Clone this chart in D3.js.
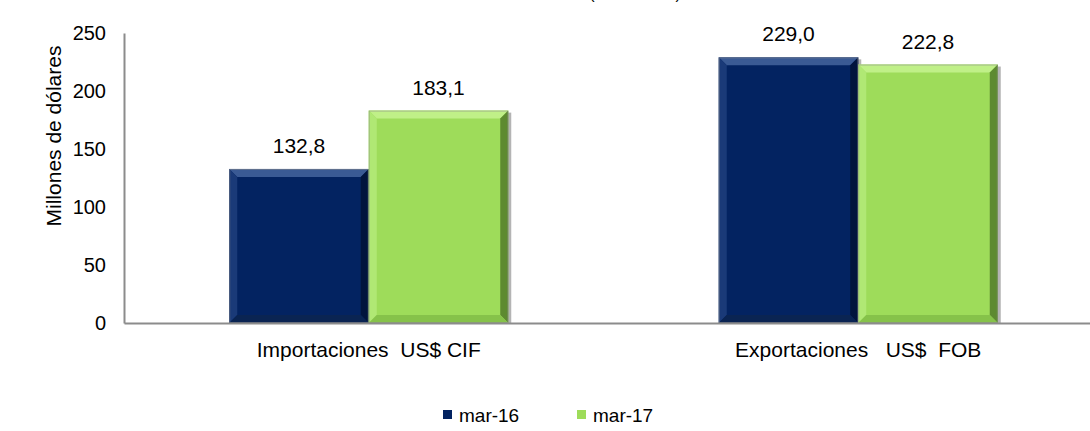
<!DOCTYPE html>
<html>
<head>
<meta charset="utf-8">
<script src="https://cdn.jsdelivr.net/npm/d3@7"></script>
<style>
  body { margin: 0; background: #fff; }
  svg { display: block; font-family: "Liberation Sans", Arial, sans-serif; }
</style>
</head>
<body>
<div id="chart"></div>
<script>
// data
const categories = ["Importaciones  US$ CIF", "Exportaciones   US$  FOB"];
const seriesNames = ["mar-16", "mar-17"];
const mar16 = [132.8, 229.0];
const mar17 = [183.1, 222.8];
const yTicks = [0, 50, 100, 150, 200, 250];

const width = 1090, height = 431;
const margin = { top: 33, right: -13, bottom: 108, left: 124 };

const palette = {
  "mar-16": { main: "#032361", top: "#3a5a94", left: "#1a3a78", right: "#01143d", bottom: "#0a2452" },
  "mar-17": { main: "#9edc5a", top: "#c0f088", left: "#b0e874", right: "#5d8a30", bottom: "#86c24a" }
};

const svg = d3.select("#chart").append("svg")
  .attr("width", width)
  .attr("height", height);

const x0 = d3.scaleBand()
  .domain(categories)
  .range([margin.left, width - margin.right])
  .paddingInner(0.43)
  .paddingOuter(0.215);

const x1 = d3.scaleBand()
  .domain(seriesNames)
  .range([0, x0.bandwidth()]);

const y = d3.scaleLinear()
  .domain([0, 250])
  .range([height - margin.bottom, margin.top]);

// title, cut off at the top edge as in the original
svg.append("text")
  .attr("x", 635)
  .attr("y", -1)
  .attr("text-anchor", "middle")
  .attr("font-size", "16px")
  .attr("fill", "#000")
  .text("(en millones)");

const rows = [];
categories.forEach((c, i) => {
  rows.push({ cat: c, s: "mar-16", v: mar16[i] });
  rows.push({ cat: c, s: "mar-17", v: mar17[i] });
});

// bars with bevel
const bev = 8;
const bars = svg.append("g").attr("class", "bars")
  .selectAll("g")
  .data(rows)
  .enter()
  .append("g");

bars.each(function (d) {
  const g = d3.select(this);
  const xa = x0(d.cat) + x1(d.s);
  const xb = xa + x1.bandwidth();
  const ya = y(d.v);
  const yb = y(0);
  const c = palette[d.s];
  // drop shadow
  g.append("rect")
    .attr("x", xa + 3).attr("y", ya + 2)
    .attr("width", xb - xa).attr("height", yb - ya - 2)
    .attr("fill", "#777").attr("opacity", 0.55);
  g.append("rect")
    .attr("x", xa).attr("y", ya)
    .attr("width", xb - xa).attr("height", yb - ya)
    .attr("fill", c.main);
  const face = (pts, fill) => g.append("polygon")
    .attr("points", pts.map(p => p.join(",")).join(" "))
    .attr("fill", fill);
  face([[xa, ya], [xb, ya], [xb - bev, ya + bev], [xa + bev, ya + bev]], c.top);
  face([[xa, ya], [xa + bev, ya + bev], [xa + bev, yb - bev], [xa, yb]], c.left);
  face([[xb, ya], [xb, yb], [xb - bev, yb - bev], [xb - bev, ya + bev]], c.right);
  face([[xa, yb], [xa + bev, yb - bev], [xb - bev, yb - bev], [xb, yb]], c.bottom);
  g.append("rect")
    .attr("x", xa + 0.5).attr("y", ya + 0.5)
    .attr("width", xb - xa - 1).attr("height", yb - ya - 1)
    .attr("fill", "none").attr("stroke", "#8a8a8a").attr("stroke-opacity", 0.5);
});

// value labels
svg.append("g")
  .selectAll("text")
  .data(rows)
  .enter()
  .append("text")
  .attr("x", d => x0(d.cat) + x1(d.s) + x1.bandwidth() / 2)
  .attr("y", d => y(d.v) - 16)
  .attr("text-anchor", "middle")
  .attr("font-size", "21px")
  .attr("fill", "#000")
  .text(d => d.v.toFixed(1).replace(".", ","));

// y axis
const yAxis = svg.append("g")
  .attr("transform", `translate(${margin.left},0)`)
  .call(d3.axisLeft(y).tickValues(yTicks).tickSize(0).tickPadding(18));
yAxis.select(".domain").attr("stroke", "#8c8c8c").attr("stroke-width", 2);
yAxis.selectAll("text").attr("font-size", "20px").attr("fill", "#000")
  .attr("font-family", "Liberation Sans, Arial, sans-serif");

// x axis
const xAxis = svg.append("g")
  .attr("transform", `translate(0,${y(0)})`)
  .call(d3.axisBottom(x0).tickSize(0).tickPadding(19));
xAxis.select(".domain").attr("stroke", "#8c8c8c").attr("stroke-width", 2);
xAxis.selectAll("text").attr("font-size", "21px").attr("fill", "#000")
  .attr("font-family", "Liberation Sans, Arial, sans-serif")
  .style("white-space", "pre")
  .attr("xml:space", "preserve");

// y axis title
svg.append("text")
  .attr("transform", `translate(61,136) rotate(-90)`)
  .attr("text-anchor", "middle")
  .attr("font-size", "21px")
  .attr("fill", "#000")
  .text("Millones de dólares");

// legend
const legendX = [443, 577];
const legend = svg.append("g")
  .selectAll("g")
  .data(seriesNames)
  .enter()
  .append("g")
  .attr("transform", (d, i) => `translate(${legendX[i]},422)`);
legend.append("rect")
  .attr("x", 0).attr("y", -12)
  .attr("width", 9).attr("height", 9)
  .attr("fill", d => palette[d].main);
legend.append("text")
  .attr("x", 16).attr("y", 0)
  .attr("font-size", "19px")
  .attr("fill", "#000")
  .text(d => d);
</script>
</body>
</html>
